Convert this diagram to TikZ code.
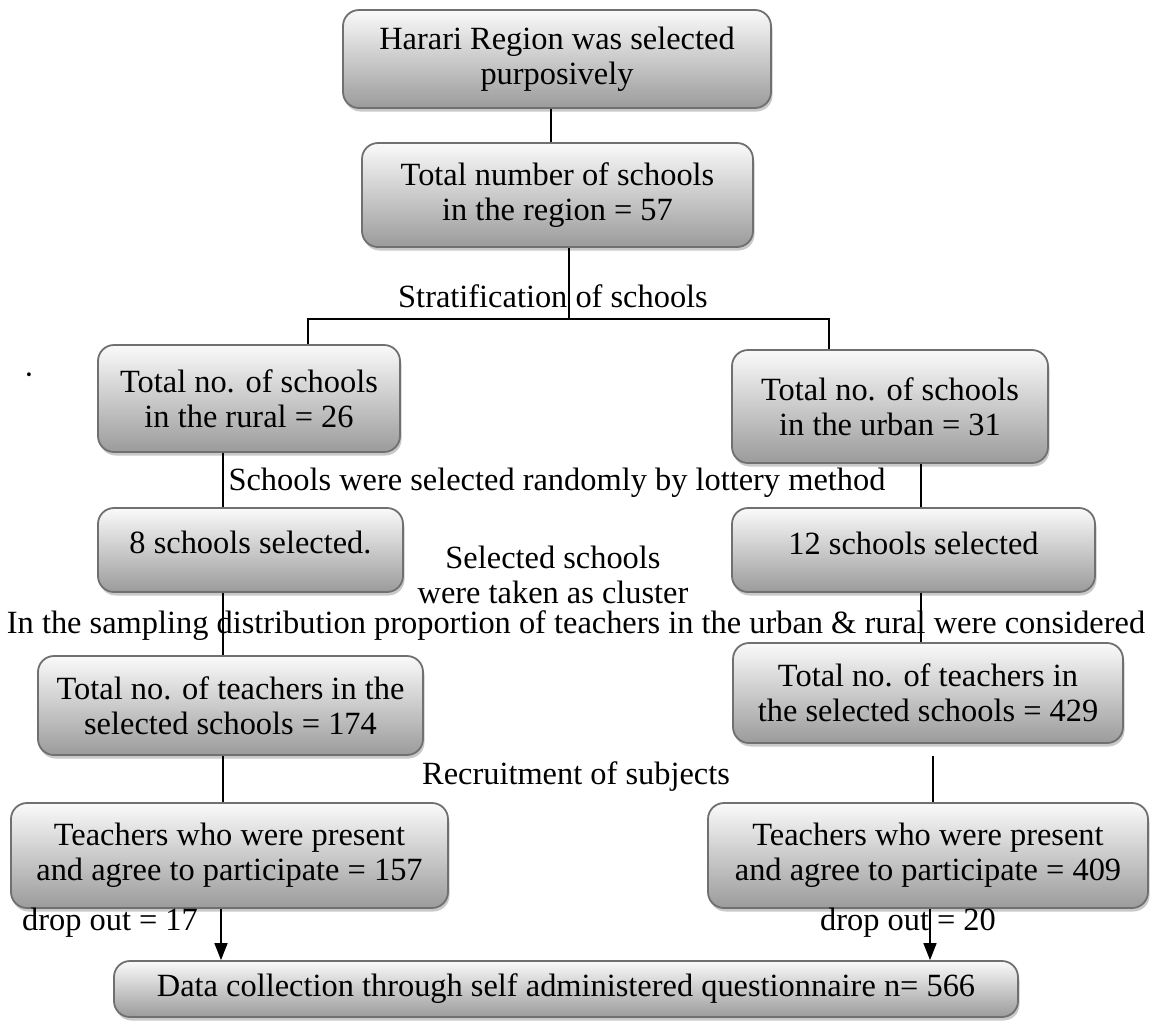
\documentclass[tikz,border=0pt]{standalone}
\usepackage{fontspec}
\setmainfont{Liberation Serif}
\usetikzlibrary{arrows.meta,shadows}
\definecolor{boxborder}{RGB}{112,112,112}
\definecolor{boxtop}{RGB}{250,250,250}
\definecolor{boxbot}{RGB}{155,155,155}
\begin{document}
\begin{tikzpicture}[x=1pt,y=-1pt,
  box/.style={draw=boxborder, line width=1.8pt, rounded corners=16pt,
    top color=boxtop, bottom color=boxbot,
    drop shadow={shadow xshift=1.5pt, shadow yshift=-3.5pt, opacity=0.3, fill=black!70},
    align=center, inner sep=0pt, font=\fontsize{32.4}{35}\selectfont},
  lbl/.style={inner sep=0pt, align=center, font=\fontsize{32.4}{35}\selectfont},
  conn/.style={line width=1.6pt, black},
  arr/.style={conn, -{Triangle[length=17pt,width=13pt]}}]
\useasboundingbox (0,0) rectangle (1152,1021);

% boxes
\node[box, minimum width=428pt, minimum height=98pt] (harari) at (557,59) {Harari Region was selected\\purposively};
\node[box, minimum width=391pt, minimum height=104pt] (total) at (557.5,195) {Total number of schools\\in the region = 57};
\node[box, minimum width=302pt, minimum height=107pt] (rural) at (249,398.5) {Total no. of schools\\in the rural = 26};
\node[box, minimum width=316pt, minimum height=113pt] (urban) at (890,406.5) {Total no. of schools\\in the urban = 31};
\node[box, minimum width=305pt, minimum height=84pt, text depth=16pt] (eight) at (250.5,550) {8 schools selected.};
\node[box, minimum width=363pt, minimum height=84pt, text depth=14pt] (twelve) at (913.5,550) {12 schools selected};
\node[box, minimum width=385pt, minimum height=99pt] (lteach) at (230.5,705.5) {Total no. of teachers in the\\selected schools = 174};
\node[box, minimum width=390pt, minimum height=100pt] (rteach) at (928,693) {Total no. of teachers in\\the selected schools = 429};
\node[box, minimum width=437pt, minimum height=105pt] (lpres) at (229.5,855.5) {Teachers who were present\\and agree to participate = 157};
\node[box, minimum width=440pt, minimum height=105pt] (rpres) at (928,855.5) {Teachers who were present\\and agree to participate = 409};
\node[box, minimum width=904pt, minimum height=56pt] (final) at (566,989) {Data collection through self administered questionnaire n= 566};

% free labels
\node[lbl] (dot) at (29,379) {·};
\node[lbl] (strat) at (553,296) {Stratification of schools};
\node[lbl] (lottery) at (557,483) {Schools were selected randomly by lottery method};
\node[lbl] (cluster) at (553,575) {Selected schools\\were taken as cluster};
\node[lbl] (sampling) at (576,626) {In the sampling distribution proportion of teachers in the urban \& rural were considered};
\node[lbl] (recruit) at (576,777) {Recruitment of subjects};
\node[lbl] (drop17) at (110,923) {drop out = 17};
\node[lbl] (drop20) at (908,923) {drop out = 20};

% connector x positions
\coordinate (c1) at (551,0);
\coordinate (split) at (569,319);
\coordinate (sl) at (308,319);
\coordinate (sr) at (829,319);
\coordinate (cl) at (223,0);
\coordinate (cr1) at (921,0);
\coordinate (r3top) at (933,756);
\coordinate (al) at (221,0);
\coordinate (ar) at (930,0);

% connectors
\draw[conn] (c1 |- harari.south) -- (c1 |- total.north);
\draw[conn] (split |- total.south) -- (split);
\draw[conn] (sl |- rural.north) -- (sl) -- (sr) -- (sr |- urban.north);
\draw[conn] (cl |- rural.south) -- (cl |- eight.north);
\draw[conn] (cr1 |- urban.south) -- (cr1 |- twelve.north);
\draw[conn] (cl |- eight.south) -- (cl |- lteach.north);
\draw[conn] (cr1 |- twelve.south) -- (cr1 |- rteach.north);
\draw[conn] (cl |- lteach.south) -- (cl |- lpres.north);
\draw[conn] (r3top) -- (r3top |- rpres.north);
\draw[arr] (al |- lpres.south) -- (al |- final.north);
\draw[arr] (ar |- rpres.south) -- (ar |- final.north);
\end{tikzpicture}
\end{document}
